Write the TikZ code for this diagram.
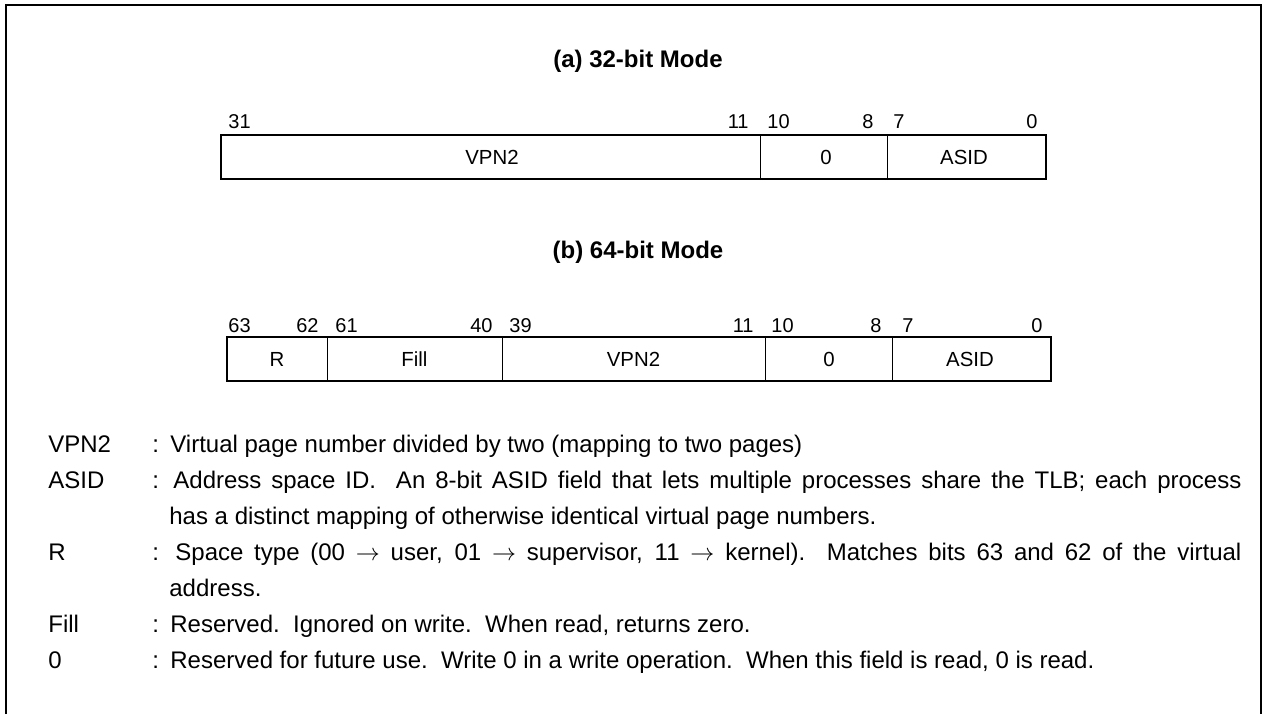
\documentclass[tikz,border=0pt]{standalone}
\usepackage{fontspec}
\setmainfont{Liberation Sans}
\begin{document}
\begin{tikzpicture}[x=0.5pt,y=-0.5pt,
  lbl/.style={inner sep=0pt, font=\fontsize{10}{12}\selectfont},
  fld/.style={inner sep=0pt, font=\fontsize{10.2}{12}\selectfont},
  ttl/.style={inner sep=0pt, anchor=base, font=\fontsize{12}{14}\selectfont\bfseries},
  leg/.style={inner sep=0pt, anchor=base west, font=\fontsize{12}{14}\selectfont},
  outline/.style={line width=1pt},
  divider/.style={line width=0.5pt},
  frameline/.style={line width=1.2pt}]
\useasboundingbox (0,0) rectangle (1266,714);
\draw[frameline] (6,714) -- (6,5) -- (1261,5) -- (1261,714);

% (a) 32-bit mode
\node[ttl] (ta) at (638,67) {(a) 32-bit Mode};
\draw[outline] (221,135) rectangle (1046,179);
\draw[divider] (760,135) -- (760,179);
\draw[divider] (887,135) -- (887,179);
\node[fld] (avpn) at (492,157) {VPN2};
\node[fld] (azero) at (826,157) {0};
\node[fld] (aasid) at (964,157) {ASID};
\node[lbl, anchor=base west] (a31) at (228,128) {31};
\node[lbl, anchor=base east] (a11) at (749,128) {11};
\node[lbl, anchor=base west] (a10) at (767,128) {10};
\node[lbl, anchor=base east] (a8) at (874,128) {8};
\node[lbl, anchor=base west] (a7) at (893,128) {7};
\node[lbl, anchor=base east] (a0) at (1038,128) {0};

% (b) 64-bit mode
\node[ttl] (tb) at (638,258) {(b) 64-bit Mode};
\draw[outline] (227,337) rectangle (1051,381);
\draw[divider] (327,337) -- (327,381);
\draw[divider] (502,337) -- (502,381);
\draw[divider] (765,337) -- (765,381);
\draw[divider] (892,337) -- (892,381);
\node[fld] (br) at (277,359) {R};
\node[fld] (bfill) at (414.5,359) {Fill};
\node[fld] (bvpn) at (633.5,359) {VPN2};
\node[fld] (bzero) at (829,359) {0};
\node[fld] (basid) at (970,359) {ASID};
\node[lbl, anchor=base west] (b63) at (228,332) {63};
\node[lbl, anchor=base east] (b62) at (319,332) {62};
\node[lbl, anchor=base west] (b61) at (335,332) {61};
\node[lbl, anchor=base east] (b40) at (493,332) {40};
\node[lbl, anchor=base west] (b39) at (509,332) {39};
\node[lbl, anchor=base east] (b11) at (754,332) {11};
\node[lbl, anchor=base west] (b10) at (771,332) {10};
\node[lbl, anchor=base east] (b8) at (882,332) {8};
\node[lbl, anchor=base west] (b7) at (902,332) {7};
\node[lbl, anchor=base east] (b0) at (1043,332) {0};

% legend
\node[leg] (lv) at (48,452) {VPN2};
\node[leg] (cv) at (152,452) {:};
\node[leg] (dv) at (170,452) {Virtual page number divided by two (mapping to two pages)};

\node[leg] (la) at (48,488) {ASID};
\node[leg] (ca) at (152,488) {:};
\node[leg] (da1) at (173,488) {\makebox[534pt][s]{Address space ID.\ \ An 8-bit ASID field that lets multiple processes share the TLB; each process}};
\node[leg] (da2) at (169,524) {has a distinct mapping of otherwise identical virtual page numbers.};

\node[leg] (lr) at (48,560) {R};
\node[leg] (cr) at (152,560) {:};
\node[leg] (dr1) at (175,560) {\makebox[533pt][s]{Space type (00 $\rightarrow$ user, 01 $\rightarrow$ supervisor, 11 $\rightarrow$ kernel).\ \ Matches bits 63 and 62 of the virtual}};
\node[leg] (dr2) at (169,596) {address.};

\node[leg] (lf) at (48,632) {Fill};
\node[leg] (cf) at (152,632) {:};
\node[leg] (df) at (170,632) {Reserved.\ \ Ignored on write.\ \ When read, returns zero.};

\node[leg] (lz) at (48,668) {0};
\node[leg] (cz) at (152,668) {:};
\node[leg] (dz) at (170,668) {Reserved for future use.\ \ Write 0 in a write operation.\ \ When this field is read, 0 is read.};
\end{tikzpicture}
\end{document}
